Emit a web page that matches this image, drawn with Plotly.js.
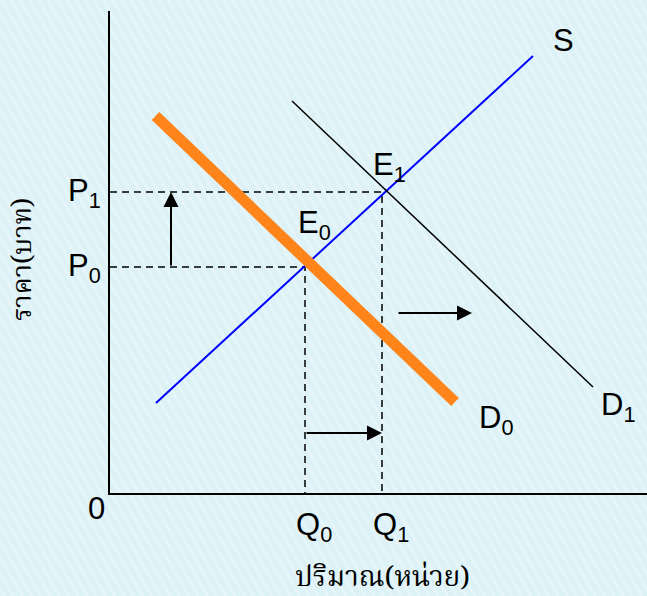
<!DOCTYPE html>
<html>
<head>
<meta charset="utf-8">
<script src="https://cdn.plot.ly/plotly-3.0.1.min.js"></script>
<style>html,body{margin:0;padding:0;background:#dff3f7;}#chart{width:647px;height:596px;}</style>
</head>
<body>
<div id="chart"></div>
<script>
// Equilibrium values (quantity / price units measured from origin)
const Q0 = 195, Q1 = 272;
const P0 = 226, P1 = 301;
// Supply curve S
const supplyX = [46, 423];
const supplyY = [90, 437];
// Original demand D0
const demand0X = [45.5, 345];
const demand0Y = [377, 91];
// New demand D1
const demand1X = [182, 483];
const demand1Y = [392, 106];
// Shift arrows
const priceArrowX = 61;          // vertical arrow P0 -> P1
const qtyArrowY = 60;            // horizontal arrow Q0 -> Q1
const shiftArrowX = [287, 362];  // demand shift arrow
const shiftArrowY = 180;
// Labels
const xTitle = 'ปริมาณ(หน่วย)';
const yTitle = 'ราคา(บาท)';

const mainFont = {family: 'Liberation Sans, Arial, sans-serif', size: 31, color: '#000'};
const thaiFontX = {family: 'Noto Serif Thai, Noto Sans Thai, Tlwg Typo, Loma, Garuda, serif', size: 28, color: '#000'};
const thaiFontY = {family: 'Noto Serif Thai, Noto Sans Thai, Tlwg Typo, Loma, Garuda, serif', size: 27, color: '#000'};
const sub = d => '<sub>' + d + '</sub>';

const traces = [
  {x: [0, Q1, Q1], y: [P1, P1, 0], mode: 'lines', line: {color: '#000', width: 1.5, dash: '7px,5px'}, hoverinfo: 'skip'},
  {x: [0, Q0, Q0], y: [P0, P0, 0], mode: 'lines', line: {color: '#000', width: 1.5, dash: '7px,5px'}, hoverinfo: 'skip'},
  {x: supplyX, y: supplyY, mode: 'lines', name: 'S', line: {color: '#0000ff', width: 2}},
  {x: demand1X, y: demand1Y, mode: 'lines', name: 'D1', line: {color: '#000', width: 1.5}},
  {x: demand0X, y: demand0Y, mode: 'lines', name: 'D0', line: {color: '#ff8419', width: 11}}
];

const svgBg = "<svg xmlns='http://www.w3.org/2000/svg' width='647' height='596'><defs><pattern id='p' width='8' height='8' patternUnits='userSpaceOnUse' patternTransform='rotate(-30)'><rect width='8' height='8' fill='#dcf2f6'/><rect width='3' height='8' fill='#e5f5f9'/></pattern></defs><rect width='647' height='596' fill='url(#p)'/></svg>";

const ann = (text, x, y, xanchor, xshift, yshift, extra) => Object.assign({
  text: text, x: x, y: y, xref: 'x', yref: 'y', showarrow: false,
  xanchor: xanchor, yanchor: 'middle', xshift: xshift, yshift: yshift, font: mainFont
}, extra || {});

const annotations = [
  ann('P' + sub(1), 0, P1, 'right', -7, -1),
  ann('P' + sub(0), 0, P0, 'right', -7, -1),
  ann('E' + sub(0), Q0, P0, 'left', -9, 42),
  ann('E' + sub(1), Q1, P1, 'left', -11, 25),
  ann('S', supplyX[1], supplyY[1], 'center', 30, 16),
  ann('D' + sub(0), demand0X[1], demand0Y[1], 'left', 22, -18),
  ann('D' + sub(1), demand1X[1], demand1Y[1], 'left', 6, -20),
  ann('Q' + sub(0), Q0, 0, 'left', -11, -34),
  ann('Q' + sub(1), Q1, 0, 'left', -11, -34),
  ann('0', 0, 0, 'center', -14, -15),
  // arrows
  {x: priceArrowX, y: P1, ax: priceArrowX, ay: P0, xref: 'x', yref: 'y', axref: 'x', ayref: 'y', text: '', showarrow: true, arrowhead: 2, arrowsize: 1.5, arrowwidth: 2, arrowcolor: '#000'},
  {x: Q1, y: qtyArrowY, ax: Q0, ay: qtyArrowY, xref: 'x', yref: 'y', axref: 'x', ayref: 'y', text: '', showarrow: true, arrowhead: 2, arrowsize: 1.5, arrowwidth: 2, arrowcolor: '#000'},
  {x: shiftArrowX[1], y: shiftArrowY, ax: shiftArrowX[0], ay: shiftArrowY, xref: 'x', yref: 'y', axref: 'x', ayref: 'y', text: '', showarrow: true, arrowhead: 2, arrowsize: 1.5, arrowwidth: 2, arrowcolor: '#000'},
  // axis titles
  {text: xTitle, xref: 'paper', yref: 'paper', x: 0.508, y: 0, yshift: -85, showarrow: false, xanchor: 'center', yanchor: 'middle', font: thaiFontX},
  {text: yTitle, xref: 'paper', yref: 'paper', x: -0.16, y: 0.4855, showarrow: false, xanchor: 'center', yanchor: 'middle', textangle: -90, font: thaiFontY}
];

const layout = {
  width: 647, height: 596,
  margin: {l: 110, r: 0, t: 11, b: 103, pad: 0},
  paper_bgcolor: '#dff3f7',
  plot_bgcolor: 'rgba(0,0,0,0)',
  showlegend: false,
  xaxis: {range: [0, 537], showgrid: false, zeroline: false, showticklabels: false, ticks: '', showline: true, linecolor: '#000', linewidth: 1.5, fixedrange: true},
  yaxis: {range: [0, 482], showgrid: false, zeroline: false, showticklabels: false, ticks: '', showline: true, linecolor: '#000', linewidth: 2, fixedrange: true},
  images: [{source: 'data:image/svg+xml;charset=utf-8,' + encodeURIComponent(svgBg), xref: 'paper', yref: 'paper', x: -110/537, y: 1 + 11/482, sizex: 647/537, sizey: 596/482, sizing: 'stretch', xanchor: 'left', yanchor: 'top', layer: 'below'}],
  annotations: annotations
};

Plotly.newPlot('chart', traces, layout, {staticPlot: true, displayModeBar: false});
</script>
</body>
</html>
